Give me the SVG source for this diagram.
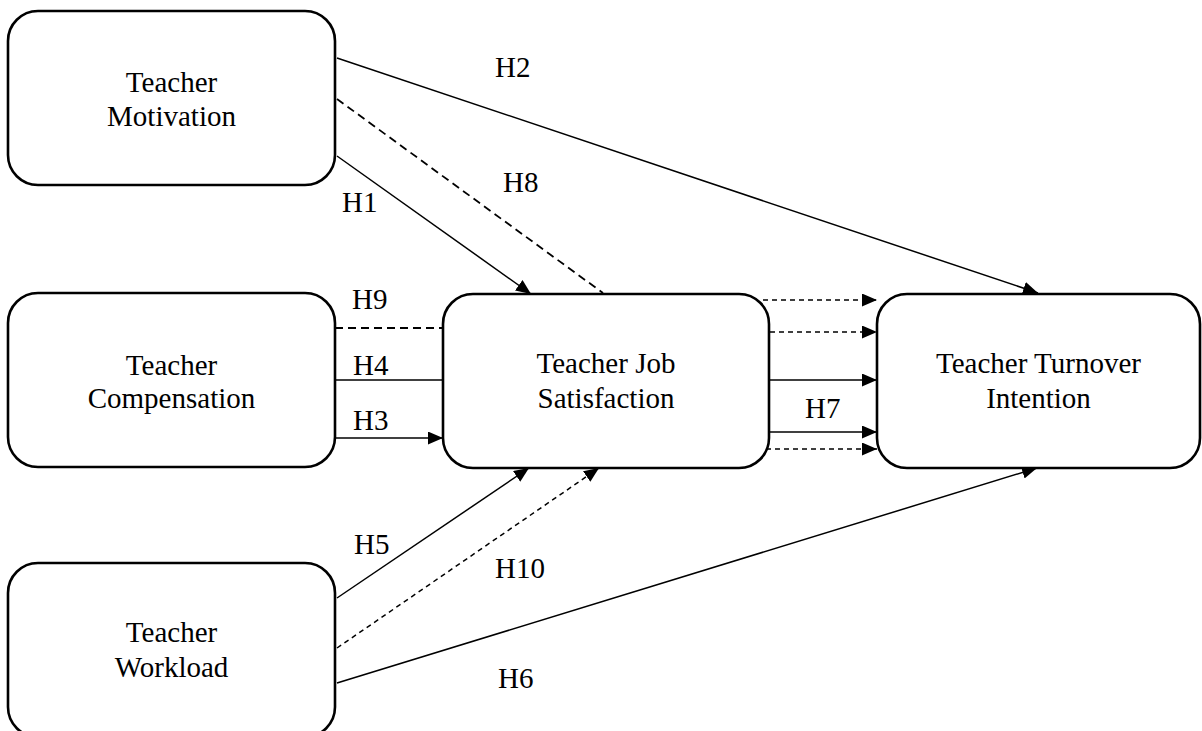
<svg xmlns="http://www.w3.org/2000/svg" width="1202" height="731" viewBox="0 0 1202 731">
<style>
.box{fill:#fff;stroke:#000;stroke-width:2.6}
.t{font-family:"Liberation Serif","Times New Roman",serif;font-size:29px;fill:#000;text-anchor:middle}
.l{font-family:"Liberation Serif","Times New Roman",serif;font-size:29px;fill:#000}
.c{fill:none;stroke:#000;stroke-width:1.5}
.d1{stroke-dasharray:8 5;stroke-width:1.8}
.d2{stroke-dasharray:5 4}
</style>
<defs>
<marker id="ah" markerUnits="userSpaceOnUse" markerWidth="16" markerHeight="14" refX="15" refY="6.5" orient="auto">
<path d="M0,0 L15,6.5 L0,13 z" fill="#000"/>
</marker>
</defs>
<rect width="1202" height="731" fill="#fff"/>
<g id="connectors">
<line class="c" x1="337" y1="58" x2="1038" y2="293" marker-end="url(#ah)"/>
<line class="c d1" x1="337" y1="99" x2="603" y2="293"/>
<line class="c" x1="337" y1="156" x2="531" y2="294" marker-end="url(#ah)"/>
<line class="c d1" x1="335" y1="328" x2="443" y2="328"/>
<line class="c" x1="335" y1="380" x2="443" y2="380"/>
<line class="c" x1="335" y1="438" x2="443" y2="438" marker-end="url(#ah)"/>
<line class="c" x1="337" y1="598" x2="529" y2="468" marker-end="url(#ah)"/>
<line class="c d2" x1="337" y1="648" x2="599" y2="468" marker-end="url(#ah)"/>
<line class="c" x1="337" y1="683" x2="1037" y2="468" marker-end="url(#ah)"/>
<line class="c d2" x1="763" y1="300" x2="877" y2="300" marker-end="url(#ah)"/>
<line class="c d2" x1="770" y1="332" x2="877" y2="332" marker-end="url(#ah)"/>
<line class="c" x1="770" y1="380" x2="877" y2="380" marker-end="url(#ah)"/>
<line class="c" x1="770" y1="432" x2="877" y2="432" marker-end="url(#ah)"/>
<line class="c d2" x1="766" y1="449" x2="877" y2="449" marker-end="url(#ah)"/>
<text class="l" x="495" y="77">H2</text>
<text class="l" x="503" y="192">H8</text>
<text class="l" x="342" y="212">H1</text>
<text class="l" x="352" y="309">H9</text>
<text class="l" x="353" y="375">H4</text>
<text class="l" x="353" y="430">H3</text>
<text class="l" x="354" y="554">H5</text>
<text class="l" x="495" y="578">H10</text>
<text class="l" x="498" y="688">H6</text>
<text class="l" x="805" y="418">H7</text>
</g>
<g id="motivation">
<rect class="box" x="8" y="11" width="327" height="174" rx="30"/>
<text class="t" x="171.5" y="92">Teacher</text>
<text class="t" x="171.5" y="126">Motivation</text>
</g>
<g id="compensation">
<rect class="box" x="8" y="293" width="327" height="174" rx="30"/>
<text class="t" x="171.5" y="375">Teacher</text>
<text class="t" x="171.5" y="408">Compensation</text>
</g>
<g id="workload">
<rect class="box" x="8" y="563" width="327" height="174" rx="30"/>
<text class="t" x="171.5" y="642">Teacher</text>
<text class="t" x="171.5" y="677">Workload</text>
</g>
<g id="jobsatisfaction">
<rect class="box" x="443" y="294" width="326" height="174" rx="30"/>
<text class="t" x="606" y="373">Teacher Job</text>
<text class="t" x="606" y="408">Satisfaction</text>
</g>
<g id="turnover">
<rect class="box" x="877" y="294" width="323" height="174" rx="30"/>
<text class="t" x="1038.5" y="373">Teacher Turnover</text>
<text class="t" x="1038.5" y="408">Intention</text>
</g>
</svg>
